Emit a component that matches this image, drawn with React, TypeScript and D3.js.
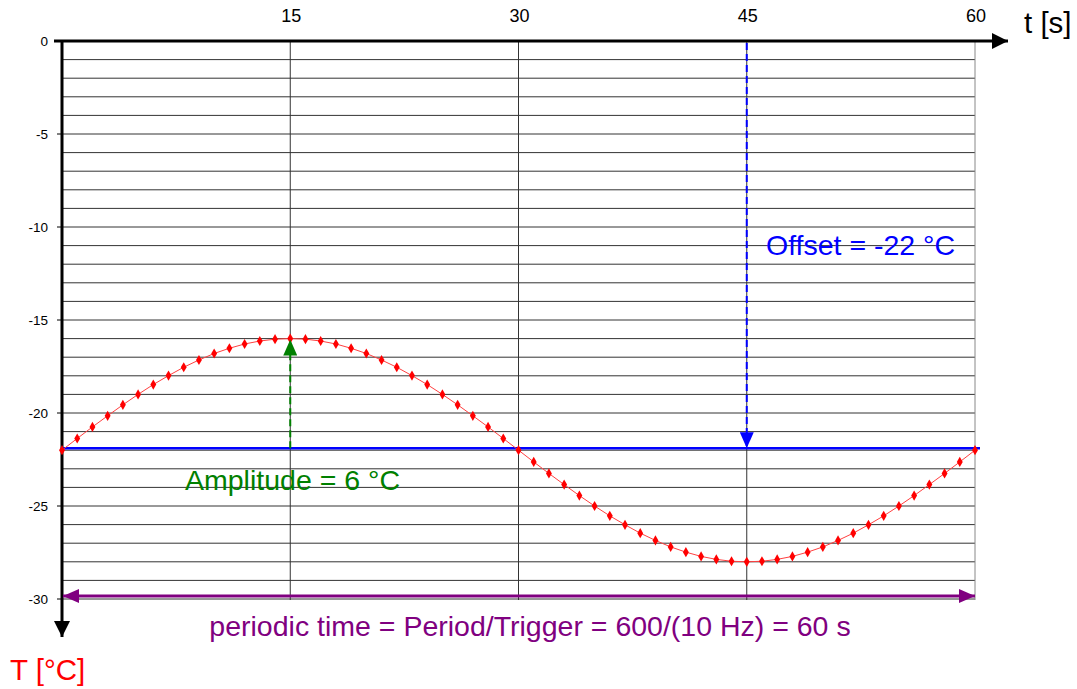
import React, { useEffect, useRef } from "react";
import { select, scaleLinear, line, range, symbol, symbolDiamond } from "d3";

// time in seconds, one sample per second
const times: number[] = range(0, 61);
// temperature samples (°C)
const temps: number[] = [
  -22.0, -21.37, -20.75, -20.15, -19.56, -19.0, -18.47, -17.99, -17.54, -17.15,
  -16.8, -16.52, -16.29, -16.13, -16.03, -16.0, -16.03, -16.13, -16.29, -16.52,
  -16.8, -17.15, -17.54, -17.99, -18.47, -19.0, -19.56, -20.15, -20.75, -21.37,
  -22.0, -22.63, -23.25, -23.85, -24.44, -25.0, -25.53, -26.01, -26.46, -26.85,
  -27.2, -27.48, -27.71, -27.87, -27.97, -28.0, -27.97, -27.87, -27.71, -27.48,
  -27.2, -26.85, -26.46, -26.01, -25.53, -25.0, -24.44, -23.85, -23.25, -22.63,
  -22.0,
];
const xTicks = [15, 30, 45, 60];
const yTicks = [0, -5, -10, -15, -20, -25, -30];
const yGrid: number[] = range(0, -31, -1);
const offset = -22;
const amplitude = 6;
const peakTime = 15;
const offsetMarkTime = 45;

const W = 1077;
const H = 689;

export default function App() {
  const svgRef = useRef<SVGSVGElement>(null);

  useEffect(() => {
    const svg = select(svgRef.current!);
    svg.selectAll("*").remove();

    const x = scaleLinear().domain([0, 60]).range([62, 975]);
    const y = scaleLinear().domain([0, -30]).range([41, 599]);
    const font = "Liberation Sans, Arial, sans-serif";

    const defs = svg.append("defs");
    const mk = (id: string, color: string, w: number, h: number) => {
      defs
        .append("marker")
        .attr("id", id)
        .attr("viewBox", "0 0 10 10")
        .attr("refX", 10)
        .attr("refY", 5)
        .attr("markerUnits", "userSpaceOnUse")
        .attr("markerWidth", w)
        .attr("markerHeight", h)
        .attr("orient", "auto-start-reverse")
        .attr("preserveAspectRatio", "none")
        .append("path")
        .attr("d", "M0,0 L10,5 L0,10 Z")
        .attr("fill", color);
    };
    mk("ablack", "#000", 16, 16);
    mk("ablue", "#0000ff", 16, 14);
    mk("agreen", "#008000", 16, 14);
    mk("apurple", "#800080", 16, 14);

    // horizontal grid
    svg
      .append("g")
      .selectAll("line")
      .data(yGrid)
      .join("line")
      .attr("x1", x(0))
      .attr("x2", x(60))
      .attr("y1", (d) => y(d))
      .attr("y2", (d) => y(d))
      .attr("stroke", "#333")
      .attr("stroke-width", 1);

    // vertical grid
    svg
      .append("g")
      .selectAll("line")
      .data(xTicks)
      .join("line")
      .attr("x1", (d) => x(d))
      .attr("x2", (d) => x(d))
      .attr("y1", y(0))
      .attr("y2", y(-30) + 1)
      .attr("stroke", (d) => (d === 60 ? "#888" : "#333"))
      .attr("stroke-width", 1);

    // y tick marks + labels
    const yt = svg.append("g");
    yt.selectAll("line")
      .data(yTicks)
      .join("line")
      .attr("x1", x(0) - 5)
      .attr("x2", x(0))
      .attr("y1", (d) => y(d))
      .attr("y2", (d) => y(d))
      .attr("stroke", "#000");
    yt.selectAll("text")
      .data(yTicks)
      .join("text")
      .attr("x", 48)
      .attr("y", (d) => y(d) + 5)
      .attr("text-anchor", "end")
      .attr("font-family", font)
      .attr("font-size", 13.5)
      .text((d) => String(d));

    // x tick labels (top)
    svg
      .append("g")
      .selectAll("text")
      .data(xTicks)
      .join("text")
      .attr("x", (d) => x(d) + 1)
      .attr("y", 22)
      .attr("text-anchor", "middle")
      .attr("font-family", font)
      .attr("font-size", 18)
      .text((d) => String(d));

    // axes with arrows
    svg
      .append("line")
      .attr("x1", x(0) - 8)
      .attr("x2", 1008)
      .attr("y1", y(0))
      .attr("y2", y(0))
      .attr("stroke", "#000")
      .attr("stroke-width", 3)
      .attr("marker-end", "url(#ablack)");
    svg
      .append("line")
      .attr("x1", x(0))
      .attr("x2", x(0))
      .attr("y1", y(0))
      .attr("y2", 637)
      .attr("stroke", "#000")
      .attr("stroke-width", 3)
      .attr("marker-end", "url(#ablack)");

    // offset line
    svg
      .append("line")
      .attr("x1", x(0))
      .attr("x2", x(60) + 5)
      .attr("y1", y(offset) - 2)
      .attr("y2", y(offset) - 2)
      .attr("stroke", "#0000ff")
      .attr("stroke-width", 2.5);

    // curve
    const pts = times.map((t, i) => [t, temps[i]] as [number, number]);
    svg
      .append("path")
      .datum(pts)
      .attr("fill", "none")
      .attr("stroke", "#ff4040")
      .attr("stroke-width", 1)
      .attr(
        "d",
        line<[number, number]>()
          .x((d) => x(d[0]))
          .y((d) => y(d[1]))
      );
    svg
      .append("g")
      .selectAll("path")
      .data(pts)
      .join("path")
      .attr("transform", (d) => `translate(${x(d[0])},${y(d[1])})`)
      .attr("d", symbol().type(symbolDiamond).size(30)())
      .attr("fill", "#ff0000");

    // amplitude arrow
    svg
      .append("line")
      .attr("x1", x(peakTime))
      .attr("x2", x(peakTime))
      .attr("y1", y(offset) - 2)
      .attr("y2", y(offset + amplitude) + 1)
      .attr("stroke", "#008000")
      .attr("stroke-width", 2)
      .attr("stroke-dasharray", "7,4")
      .attr("marker-end", "url(#agreen)");

    // offset arrow
    svg
      .append("line")
      .attr("x1", x(offsetMarkTime))
      .attr("x2", x(offsetMarkTime))
      .attr("y1", y(0) + 2)
      .attr("y2", y(offset) - 2)
      .attr("stroke", "#0000ff")
      .attr("stroke-width", 2)
      .attr("stroke-dasharray", "7,4")
      .attr("marker-end", "url(#ablue)");

    // period arrow
    svg
      .append("line")
      .attr("x1", x(0) + 1)
      .attr("x2", x(60))
      .attr("y1", y(-30) - 3)
      .attr("y2", y(-30) - 3)
      .attr("stroke", "#800080")
      .attr("stroke-width", 3)
      .attr("marker-start", "url(#apurple)")
      .attr("marker-end", "url(#apurple)");

    const label = (tx: number, ty: number, s: string, c: string, size: number, anchor = "start") =>
      svg
        .append("text")
        .attr("x", tx)
        .attr("y", ty)
        .attr("fill", c)
        .attr("font-family", font)
        .attr("font-size", size)
        .attr("text-anchor", anchor)
        .text(s);

    label(1024, 33, "t [s]", "#000", 29.5);
    label(10, 680, "T [°C]", "#ff0000", 29.5);
    label(185, 490, "Amplitude = 6 °C", "#008000", 28.5);
    label(766, 255, "Offset = -22 °C", "#0000ff", 28.5);
    label(530, 636, "periodic time = Period/Trigger = 600/(10 Hz) = 60 s", "#800080", 28.5, "middle");
  }, []);

  return (
    <svg
      ref={svgRef}
      width={W}
      height={H}
      style={{ position: "absolute", left: 0, top: 0, background: "#fff" }}
    />
  );
}
